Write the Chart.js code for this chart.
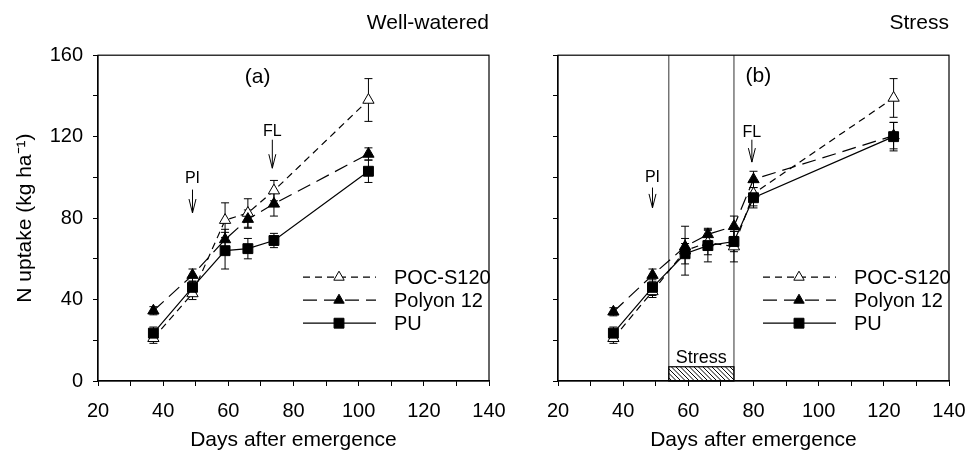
<!DOCTYPE html>
<html>
<head>
<meta charset="utf-8">
<script src="https://cdn.jsdelivr.net/npm/chart.js@4.4.1/dist/chart.umd.min.js"></script>
<style>
  html, body { margin:0; padding:0; background:#fff; }
  #wrap { position:relative; width:969px; height:450px; overflow:hidden; }
  .panel { position:absolute; top:0; height:450px; }
</style>
</head>
<body>
<div id="wrap">
  <div class="panel" style="left:0;width:520px"><canvas id="chartWW"></canvas></div>
  <div class="panel" style="left:520px;width:449px"><canvas id="chartST"></canvas></div>
</div>
<script>
// --- data ---
const seriesNames = ['POC-S120', 'Polyon 12', 'PU'];
const xTickLabels = [20, 40, 60, 80, 100, 120, 140];
const yTickLabels = [0, 40, 80, 120, 160];

// well-watered
const daysWW = [37, 49, 59, 66, 74, 103];
const pocWW = [21, 43, 79, 82.5, 93.5, 138];
const pocErrWW = [2.5, 3, 8.5, 7, 5, 10.5];
const polyonWW = [34.5, 52, 69.5, 79.5, 87, 111.5];
const polyonErrWW = [2, 3, 5, 4.5, 6, 3];
const puWW = [23.5, 46, 64, 65, 69, 103];
const puErrWW = [3, 3, 9, 5, 3.5, 5.5];

// stress
const daysST = [37, 49, 59, 66, 74, 80, 123];
const pocST = [21, 44, 64, 68, 66, 92, 139];
const pocErrST = [2.5, 3, 12, 6, 7.5, 6, 9.5];
const polyonST = [34, 52, 66, 72, 76, 99, 120.5];
const polyonErrST = [2, 3, 4, 3, 5, 4, 6.5];
const puST = [23.5, 46, 62.5, 66.5, 68.5, 90, 120];
const puErrST = [3, 4, 5, 8, 5, 5, 7];

// growth stage arrows
const stagesWW = [
  { label:'PI', day:49, textY:99.5, top:94, tip:82.5 },
  { label:'FL', day:73.5, textY:122.5, top:118.5, tip:104.5 }
];
const stagesST = [
  { label:'PI', day:49, textY:100, top:95, tip:85 },
  { label:'FL', day:79.5, textY:122, top:118.5, tip:107.5 }
];
const stressWindow = [54, 74];

const FONT = "'Liberation Sans', Arial, Helvetica, sans-serif";

function pts(days, vals){ return days.map((d, i) => ({ x:d, y:vals[i] })); }

function makeDatasets(days, poc, pocErr, polyon, polyonErr, pu, puErr){
  const common = { borderColor:'#000', borderWidth:1.2, pointBorderColor:'#000', pointBorderWidth:1, showLine:true, tension:0, clip:false };
  return [
    { ...common, label:seriesNames[2], data:pts(days, pu), errors:puErr, borderDash:[], pointStyle:'rect', pointRadius:7, pointBackgroundColor:'#000', order:1 },
    { ...common, label:seriesNames[1], data:pts(days, polyon), errors:polyonErr, borderDash:[14, 7], pointStyle:'triangle', pointRadius:6.5, pointBackgroundColor:'#000', order:2 },
    { ...common, label:seriesNames[0], data:pts(days, poc), errors:pocErr, borderDash:[7, 5], pointStyle:'triangle', pointRadius:6.5, pointBackgroundColor:'#fff', order:3 }
  ];
}

function drawMarker(ctx, style, x, y, r, fill){
  ctx.beginPath();
  if (style === 'rect') {
    const s = r * Math.SQRT1_2;
    ctx.rect(x - s, y - s, 2 * s, 2 * s);
  } else {
    for (let k = 0; k < 3; k++) {
      const a = -Math.PI / 2 + k * 2 * Math.PI / 3;
      const px = x + r * Math.cos(a), py = y + r * Math.sin(a);
      k ? ctx.lineTo(px, py) : ctx.moveTo(px, py);
    }
    ctx.closePath();
  }
  ctx.fillStyle = fill; ctx.fill();
  ctx.lineWidth = 1; ctx.strokeStyle = '#000'; ctx.stroke();
}

function makeDecor(panel){
  return {
    id: 'decor_' + panel.letter,
    beforeDatasetsDraw(chart){
      const { ctx, chartArea:a, scales:{ x, y } } = chart;
      ctx.save();
      if (panel.stress) {
        const x0 = x.getPixelForValue(panel.stress[0]), x1 = x.getPixelForValue(panel.stress[1]);
        ctx.strokeStyle = '#555'; ctx.lineWidth = 1.2;
        ctx.beginPath();
        ctx.moveTo(x0, a.top); ctx.lineTo(x0, a.bottom);
        ctx.moveTo(x1, a.top); ctx.lineTo(x1, a.bottom);
        ctx.stroke();
        const yb = y.getPixelForValue(0), yt = y.getPixelForValue(7);
        ctx.save();
        ctx.beginPath(); ctx.rect(x0, yt, x1 - x0, yb - yt); ctx.clip();
        ctx.strokeStyle = '#000'; ctx.lineWidth = 1;
        ctx.beginPath();
        for (let sx = x0 - 20; sx < x1 + 20; sx += 4.5) { ctx.moveTo(sx, yt); ctx.lineTo(sx + (yb - yt), yb); }
        ctx.stroke();
        ctx.restore();
        ctx.strokeStyle = '#000'; ctx.lineWidth = 1.2;
        ctx.strokeRect(x0, yt, x1 - x0, yb - yt);
        ctx.fillStyle = '#000'; ctx.font = '18px ' + FONT;
        ctx.textAlign = 'center'; ctx.textBaseline = 'middle';
        ctx.fillText('Stress', x.getPixelForValue((panel.stress[0] + panel.stress[1]) / 2), y.getPixelForValue(11.5));
      }
      // error bars
      ctx.strokeStyle = '#000'; ctx.lineWidth = 1; ctx.setLineDash([]);
      chart.data.datasets.forEach(ds => {
        ds.data.forEach((p, j) => {
          const e = ds.errors[j];
          const px = x.getPixelForValue(p.x);
          const y0 = y.getPixelForValue(p.y - e), y1 = y.getPixelForValue(p.y + e);
          ctx.beginPath();
          ctx.moveTo(px, y0); ctx.lineTo(px, y1);
          ctx.moveTo(px - 4, y0); ctx.lineTo(px + 4, y0);
          ctx.moveTo(px - 4, y1); ctx.lineTo(px + 4, y1);
          ctx.stroke();
        });
      });
      ctx.restore();
    },
    afterDraw(chart){
      const { ctx, chartArea:a, scales:{ x, y } } = chart;
      ctx.save();
      ctx.strokeStyle = '#000'; ctx.lineWidth = 1.2; ctx.setLineDash([]);
      ctx.strokeRect(a.left, a.top, a.right - a.left, a.bottom - a.top);
      ctx.fillStyle = '#000'; ctx.textAlign = 'center'; ctx.textBaseline = 'middle';
      ctx.font = '21px ' + FONT;
      ctx.fillText('(' + panel.letter + ')', x.getPixelForValue(panel.letterAt[0]), y.getPixelForValue(panel.letterAt[1]));
      // stage arrows
      ctx.font = '16px ' + FONT; ctx.lineWidth = 1;
      panel.stages.forEach(s => {
        const px = x.getPixelForValue(s.day), top = y.getPixelForValue(s.top), tip = y.getPixelForValue(s.tip);
        ctx.fillText(s.label, px, y.getPixelForValue(s.textY));
        ctx.beginPath();
        ctx.moveTo(px, top); ctx.lineTo(px, tip);
        ctx.moveTo(px - 3.5, tip - 14); ctx.lineTo(px, tip); ctx.lineTo(px + 3.5, tip - 14);
        ctx.stroke();
      });
      // legend
      const lx0 = a.left + 205, lx1 = a.left + 278, lm = a.left + 241, tx = a.left + 296;
      const rows = [chart.data.datasets[2], chart.data.datasets[1], chart.data.datasets[0]];
      ctx.font = '20px ' + FONT; ctx.textAlign = 'left';
      rows.forEach((ds, i) => {
        const ly = a.top + 222 + i * 23;
        ctx.setLineDash(ds.borderDash); ctx.lineWidth = 1.2;
        ctx.beginPath(); ctx.moveTo(lx0, ly); ctx.lineTo(lx1, ly); ctx.stroke();
        ctx.setLineDash([]);
        drawMarker(ctx, ds.pointStyle, lm, ly, ds.pointStyle === 'rect' ? 7 : 6, ds.pointBackgroundColor);
        ctx.fillStyle = '#000';
        ctx.fillText(ds.label, tx, ly + 1);
      });
      ctx.restore();
    }
  };
}

function buildPanel(canvasId, panel){
  return new Chart(document.getElementById(canvasId), {
    type: 'line',
    data: { datasets: panel.datasets },
    options: {
      responsive: true, maintainAspectRatio: false, animation: false, devicePixelRatio: 1,
      layout: { padding: { left: 0, right: panel.padRight, top: 0, bottom: 0 } },
      plugins: {
        legend: { display: false }, tooltip: { enabled: false },
        title: { display: true, text: panel.title, align: 'end', color: '#000', font: { family: FONT, size: 21, weight: 'normal' }, padding: { top: 11, bottom: 19 } }
      },
      scales: {
        x: {
          type: 'linear', min: 20, max: 140,
          afterFit: s => { s.height = 69; s.paddingLeft = 0; s.paddingRight = 0; },
          grid: { drawOnChartArea: false, drawTicks: true, tickLength: 5, color: '#000' },
          border: { display: true, color: '#000', width: 1.2 },
          ticks: { stepSize: 10, autoSkip: false, maxRotation: 0, color: '#000', padding: 13, font: { family: FONT, size: 20 },
                   callback: v => xTickLabels.includes(v) ? String(v) : '' },
          title: { display: true, text: 'Days after emergence', color: '#000', font: { family: FONT, size: 21, lineHeight: 1 }, padding: { top: 0, bottom: -1 } }
        },
        y: {
          min: 0, max: 160,
          afterFit: s => { s.width = panel.yWidth; },
          grid: { drawOnChartArea: false, drawTicks: true, tickLength: 5, color: '#000' },
          border: { display: true, color: '#000', width: 1.2 },
          ticks: { stepSize: 20, autoSkip: false, color: '#000', padding: 10, font: { family: FONT, size: 20 },
                   callback: v => (panel.yLabels && yTickLabels.includes(v)) ? String(v) : '' },
          title: { display: panel.yLabels, text: 'N uptake (kg ha\u207B\u00B9)', color: '#000', font: { family: FONT, size: 21 }, padding: { top: 13, bottom: 0 } }
        }
      }
    },
    plugins: [makeDecor(panel)]
  });
}

buildPanel('chartWW', {
  letter: 'a', letterAt: [69, 149], title: 'Well-watered', padRight: 31, yWidth: 98, yLabels: true,
  stages: stagesWW, stress: null,
  datasets: makeDatasets(daysWW, pocWW, pocErrWW, polyonWW, polyonErrWW, puWW, puErrWW)
});
buildPanel('chartST', {
  letter: 'b', letterAt: [81.5, 149.5], title: 'Stress', padRight: 20, yWidth: 38, yLabels: false,
  stages: stagesST, stress: stressWindow,
  datasets: makeDatasets(daysST, pocST, pocErrST, polyonST, polyonErrST, puST, puErrST)
});
</script>
</body>
</html>
